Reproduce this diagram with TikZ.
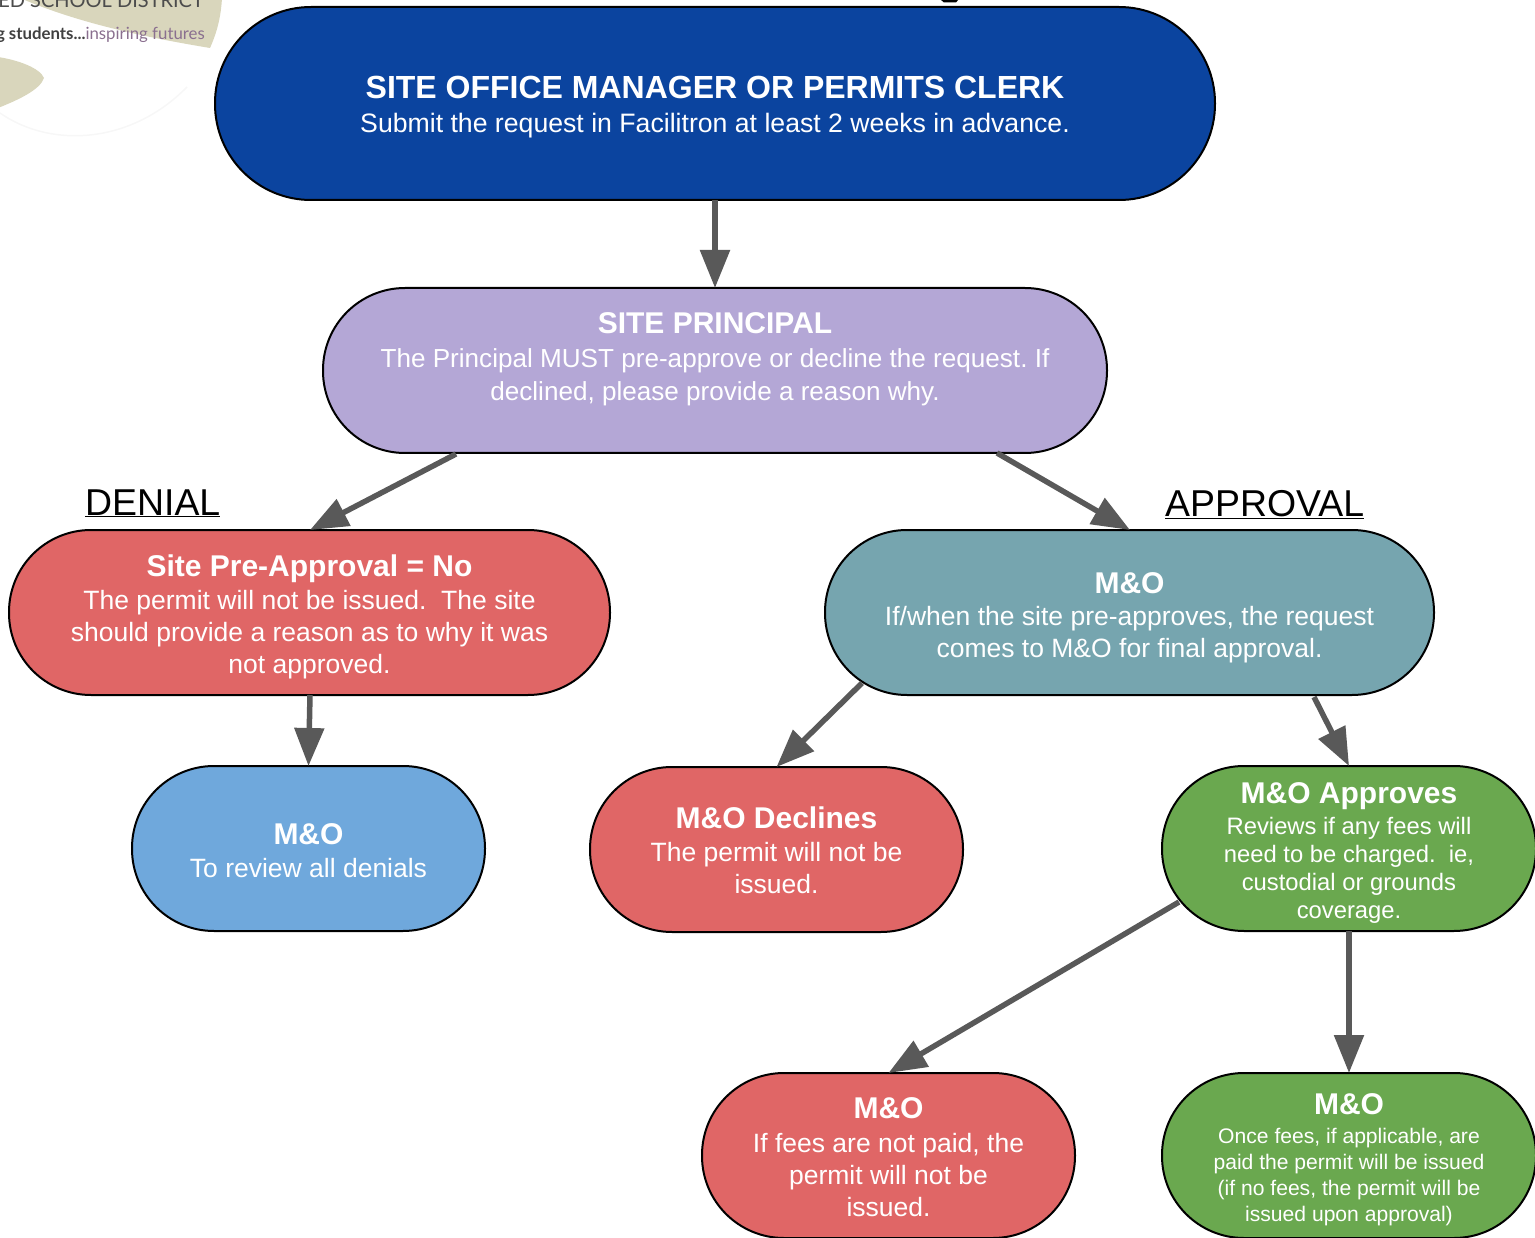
\documentclass[tikz,border=0pt]{standalone}
\usepackage{fontspec}
\setmainfont{Liberation Sans}
\newfontfamily\logofont{Lato}
\usetikzlibrary{arrows.meta,calc}
\definecolor{cTop}{HTML}{0B449F}
\definecolor{cPurple}{HTML}{B4A7D6}
\definecolor{cRed}{HTML}{E06666}
\definecolor{cTeal}{HTML}{76A5AF}
\definecolor{cBlue}{HTML}{6FA8DC}
\definecolor{cGreen}{HTML}{6AA84F}
\definecolor{cArrow}{HTML}{595959}
\definecolor{cBeige}{HTML}{D9D6BC}
\definecolor{cLogoPurple}{HTML}{8A6F8F}
\newcommand\ttlf{\fontsize{30}{30}\selectfont\bfseries}
\newcommand\bodyf{\fontsize{26.5}{32}\selectfont\frenchspacing}
\newcommand\bodyg{\fontsize{23.8}{28}\selectfont\frenchspacing}
\newcommand\bodyh{\fontsize{21.1}{26}\selectfont\frenchspacing}
% strut on a first line: moves the whole text of a node down by #1 pt
\newcommand\dropby[1]{\rule{0pt}{\dimexpr 22pt+2\dimexpr #1pt\relax\relax}}
\tikzset{
 x=1pt,y=-1pt,
 pill/.style={rectangle,draw=black,line width=2pt,inner sep=0pt,outer sep=0pt,text=white,align=center,rounded corners=82pt,font=\bodyf},
 conn/.style={draw=cArrow,line width=5.5pt,-{Triangle[length=38pt,width=29pt]},shorten >=0pt},
 lab/.style={font=\fontsize{37.4}{37.4}\selectfont,anchor=base west,inner sep=0pt},
}
\begin{document}
\begin{tikzpicture}
\useasboundingbox (0,0) rectangle (1535,1238);
\clip (0,0) rectangle (1535,1238);
% logo fragments
\fill[cBeige] (20,-2) .. controls (80,24) and (150,38) .. (210,48) .. controls (218,30) and (221,15) .. (222,-2) -- cycle;
\fill[cBeige] (-2,57) .. controls (18,60) and (40,68) .. (44,78) .. controls (40,90) and (18,100) .. (-2,108) -- cycle;
\draw[black!3,line width=1.5pt] (0,113) .. controls (50,148) and (130,145) .. (187,87);
\node[anchor=base east,inner sep=0pt,text=black!70] (logoA) at (204,8) {\logofont\fontsize{20}{20}\selectfont ED SCHOOL DISTRICT};
\node[anchor=base east,inner sep=0pt] (logoB) at (205,40) {\logofont\fontsize{16.8}{16.8}\selectfont\textcolor{black!75}{\bfseries g students...}\textcolor{cLogoPurple}{inspiring futures}};
\fill[black] (941,0) -- (958,0) -- (956,2.5) -- (944,2.5) -- cycle;
% nodes
\node[pill,fill=cTop,font=\fontsize{26.65}{32}\selectfont\frenchspacing,rounded corners=96pt,minimum width=1000pt,minimum height=193pt] (top) at (715,103.5)
 {\dropby{4}{\fontsize{32}{32}\selectfont\bfseries SITE OFFICE MANAGER OR PERMITS CLERK}\\[1.5pt]Submit the request in Facilitron at least 2 weeks in advance.};
\node[pill,fill=cPurple,font=\fontsize{26.1}{32}\selectfont\frenchspacing,minimum width=784pt,minimum height=165pt] (princ) at (715,370.5)
 {\dropby{1.5}{\ttlf SITE PRINCIPAL}\\[2pt]The Principal MUST pre-approve or decline the request. If\\declined, please provide a reason why.\\~};
\node[pill,fill=cRed,minimum width=601pt,minimum height=165pt] (deny) at (309.5,612.5)
 {\dropby{4.5}{\ttlf Site Pre-Approval = No}\\[1pt]The permit will not be issued.\ \ The site\\should provide a reason as to why it was\\not approved.};
\node[pill,fill=cTeal,minimum width=609pt,minimum height=165pt] (mo) at (1129.5,612.5)
 {\dropby{5}{\ttlf M\&O}\\If/when the site pre-approves, the request\\comes to M\&O for final approval.};
\node[pill,fill=cBlue,minimum width=353pt,minimum height=165pt] (rev) at (308.5,848.5)
 {\dropby{2}{\ttlf M\&O}\\[1pt]To review all denials};
\node[pill,fill=cRed,minimum width=373pt,minimum height=165pt] (decl) at (776.5,849.5)
 {\dropby{1}{\ttlf M\&O Declines}\\[1pt]The permit will not be\\issued.};
\node[pill,fill=cGreen,font=\bodyg,minimum width=374pt,minimum height=165pt] (appr) at (1349,848.5)
 {\dropby{4}{\ttlf M\&O Approves}\\[3pt]Reviews if any fees will\\need to be charged.\ \ ie,\\custodial or grounds\\coverage.};
\node[pill,fill=cRed,minimum width=373pt,minimum height=165pt] (fees) at (888.5,1155.5)
 {\dropby{1.5}{\ttlf M\&O}\\[2pt]If fees are not paid, the\\permit will not be\\issued.};
\node[pill,fill=cGreen,font=\bodyh,minimum width=374pt,minimum height=165pt] (issue) at (1349,1155.5)
 {\dropby{4}{\ttlf M\&O}\\[3pt]Once fees, if applicable, are\\paid the permit will be issued\\(if no fees, the permit will be\\issued upon approval)};
\node[lab] (denial) at (85,515) {\underline{DENIAL}};
\node[lab] (approval) at (1165,516) {\underline{APPROVAL}};
% connectors
\draw[conn] (top.south) -- (princ.north);
\draw[conn] ([xshift=133pt,yshift=-1pt]princ.south west) -- ([xshift=0.5pt]deny.north);
\draw[conn] ([xshift=674pt,yshift=0pt]princ.south west) -- ([xshift=0.5pt]mo.north);
\draw[conn] ([xshift=0.5pt]deny.south) -- (rev.north);
\draw[conn] ([xshift=37pt,yshift=12pt]mo.south west) -- (decl.north);
\draw[conn] ([xshift=489pt,yshift=-2pt]mo.south west) -- (appr.north);
\draw[conn] ([xshift=17pt,yshift=29pt]appr.south west) -- (fees.north);
\draw[conn] (appr.south) -- (issue.north);
\end{tikzpicture}
\end{document}
